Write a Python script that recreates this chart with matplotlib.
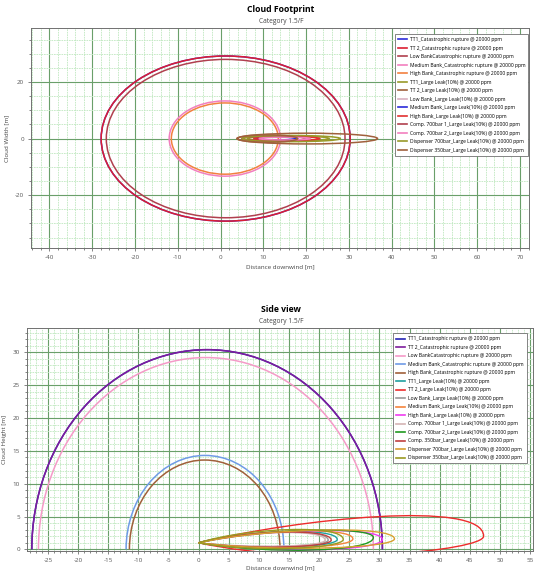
import matplotlib.pyplot as plt
from matplotlib.patches import Ellipse, Arc, PathPatch, Rectangle
from matplotlib.path import Path
from matplotlib.lines import Line2D
from matplotlib.ticker import MultipleLocator

plt.rcParams['font.family'] = ['Open Sans', 'DejaVu Sans']
plt.rcParams['axes.unicode_minus'] = False

# ---- Cloud footprint (top view) ----
top_labels = ['TT1_Catastrophic rupture @ 20000 ppm',
              'TT 2_Catastrophic rupture @ 20000 ppm',
              'Low BankCatastrophic rupture @ 20000 ppm',
              'Medium Bank_Catastrophic rupture @ 20000 ppm',
              'High Bank_Catastrophic rupture @ 20000 ppm',
              'TT1_Large Leak(10%) @ 20000 ppm',
              'TT 2_Large Leak(10%) @ 20000 ppm',
              'Low Bank_Large Leak(10%) @ 20000 ppm',
              'Medium Bank_Large Leak(10%) @ 20000 ppm',
              'High Bank_Large Leak(10%) @ 20000 ppm',
              'Comp. 700bar 1_Large Leak(10%) @ 20000 ppm',
              'Comp. 700bar 2_Large Leak(10%) @ 20000 ppm',
              'Dispenser 700bar_Large Leak(10%) @ 20000 ppm',
              'Dispenser 350bar_Large Leak(10%) @ 20000 ppm']
top_colors = ['#2b2bd9', '#dc1e32', '#b0404e', '#f27fbf', '#f28040',
              '#9a9a2a', '#a0603c', '#d9b0c0', '#2b2bd9', '#e23030',
              '#b0404e', '#f27fbf', '#9a9a2a', '#a0603c']

# catastrophic ruptures: centre x, radius along wind, radius across wind
top_cat_cx = [1.2, 1.2, 1.2, 1.0, 1.0]
top_cat_rx = [29.1, 29.1, 27.9, 13.0, 12.5]
top_cat_ry = [29.2, 29.2, 28.0, 13.3, 12.6]

# large leaks: start x, end x, half width
top_leak_x0 = [6.3, 3.8, 8.0, 8.0, 7.8, 5.0, 9.0, 5.0, 4.0]
top_leak_x1 = [25.4, 36.7, 21.0, 18.0, 23.2, 20.0, 21.0, 28.0, 18.0]
top_leak_hw = [0.9, 1.9, 0.6, 0.5, 0.7, 0.8, 0.5, 1.1, 1.3]

# ---- Side view ----
side_labels = ['TT1_Catastrophic rupture @ 20000 ppm',
               'TT 2_Catastrophic rupture @ 20000 ppm',
               'Low BankCatastrophic rupture @ 20000 ppm',
               'Medium Bank_Catastrophic rupture @ 20000 ppm',
               'High Bank_Catastrophic rupture @ 20000 ppm',
               'TT1_Large Leak(10%) @ 20000 ppm',
               'TT 2_Large Leak(10%) @ 20000 ppm',
               'Low Bank_Large Leak(10%) @ 20000 ppm',
               'Medium Bank_Large Leak(10%) @ 20000 ppm',
               'High Bank_Large Leak(10%) @ 20000 ppm',
               'Comp. 700bar 1_Large Leak(10%) @ 20000 ppm',
               'Comp. 700bar 2_Large Leak(10%) @ 20000 ppm',
               'Comp. 350bar_Large Leak(10%) @ 20000 ppm',
               'Dispenser 700bar_Large Leak(10%) @ 20000 ppm',
               'Dispenser 350bar_Large Leak(10%) @ 20000 ppm']
side_colors = ['#2424b4', '#7e1c9c', '#f59ac8', '#6f9be6', '#a0603a',
               '#1fa0a0', '#ee2c2c', '#9a9a9a', '#f5843c', '#f03cf0',
               '#d4b4b4', '#1f9a1f', '#c04040', '#d8a030', '#9a9a20']

side_cat_cx = [1.4, 1.4, 1.2, 1.05, 1.0]
side_cat_rx = [29.1, 29.1, 27.8, 13.1, 12.5]
side_cat_h = [30.4, 30.4, 29.2, 14.3, 13.6]

release_h = 1.0
# large leak plumes: tip distance, tip height, upper / lower control heights
plume_tip_x = [23.0, 47.3, 21.5, 25.6, 30.5, 21.0, 29.0, 22.0, 32.5, 24.0]
plume_tip_y = [1.5, 2.0, 1.4, 1.6, 1.5, 1.4, 1.8, 1.4, 1.6, 1.5]
plume_up1 = [3.0, 4.7, 2.9, 3.1, 3.2, 2.8, 3.2, 2.9, 3.3, 3.4]
plume_up2 = [3.4, 7.6, 3.3, 3.5, 3.6, 3.2, 3.6, 3.3, 3.7, 3.8]
plume_lo1 = [0.3, -0.2, 0.4, 0.2, -0.2, 0.4, -0.4, 0.3, 0.2, 0.2]
plume_lo2 = [-0.2, -2.8, 0.0, -0.3, -0.8, 0.1, -0.8, -0.1, -0.5, -0.6]

fig = plt.figure(figsize=(5.38, 5.74), dpi=100)
W, H = 538, 574
ax1 = fig.add_axes([31 / W, 1 - 248 / H, 498 / W, 220 / H])
ax2 = fig.add_axes([27 / W, 1 - 551 / H, 506 / W, 223 / H])


def style(ax, xmaj, xmin, ymaj, ymin):
    ax.xaxis.set_major_locator(MultipleLocator(xmaj))
    ax.xaxis.set_minor_locator(MultipleLocator(xmin))
    ax.yaxis.set_major_locator(MultipleLocator(ymaj))
    ax.yaxis.set_minor_locator(MultipleLocator(ymin))
    ax.grid(which='major', color='#6a9f6a', lw=0.8)
    ax.grid(which='minor', color='#c0e8c0', lw=0.6, ls=(0, (2, 1)))
    ax.set_axisbelow(True)
    ax.tick_params(which='both', labelsize=4.5, colors='#555555', width=0.5)
    ax.tick_params(which='major', length=2.5, pad=2.5)
    ax.tick_params(which='minor', length=1.5)
    for s in ax.spines.values():
        s.set_color('#707070')
        s.set_linewidth(0.7)


def add_legend(ax, colors, labels, anchor):
    handles = [Line2D([], [], color=c, lw=1.2) for c in colors]
    leg = ax.legend(handles, labels, loc='upper right', fontsize=3.6,
                    frameon=True, fancybox=False, framealpha=1,
                    edgecolor='#707070', handlelength=1.8, handletextpad=0.6,
                    labelspacing=0.7, borderpad=0.6, bbox_to_anchor=anchor)
    leg.get_frame().set_linewidth(0.6)


# top view
for i in range(5):
    ax1.add_patch(Ellipse((top_cat_cx[i], 0), 2 * top_cat_rx[i], 2 * top_cat_ry[i],
                          fill=False, ec=top_colors[i], lw=1.1))
for j in range(9):
    x0, x1 = top_leak_x0[j], top_leak_x1[j]
    ax1.add_patch(Ellipse(((x0 + x1) / 2, 0), x1 - x0, 2 * top_leak_hw[j],
                          fill=False, ec=top_colors[5 + j], lw=1.1))
ax1.set_xlim(-44.3, 72.1)
ax1.set_ylim(-38.7, 39.1)
style(ax1, 10, 2, 20, 5)
ax1.set_xlabel('Distance downwind [m]', fontsize=4.5, labelpad=3, color='#444444')
ax1.set_ylabel('Cloud Width [m]', fontsize=4.5, labelpad=4, color='#444444')
add_legend(ax1, top_colors, top_labels, (1.004, 0.984))

# side view
for i in range(5):
    ax2.add_patch(Arc((side_cat_cx[i], 0), 2 * side_cat_rx[i], 2 * side_cat_h[i],
                      theta1=0, theta2=180, ec=side_colors[i], lw=1.1))
ax2.set_xlim(-28.5, 55.5)
ax2.set_ylim(-0.25, 33.7)
ground = Rectangle((-28.5, 0), 84, 34, transform=ax2.transData)
for j in range(10):
    L = plume_tip_x[j]
    verts = [(0, release_h), (0.35 * L, plume_up1[j]), (L, plume_up2[j]),
             (L, plume_tip_y[j]), (L, plume_lo1[j]), (0.4 * L, plume_lo2[j]),
             (0, release_h)]
    codes = [Path.MOVETO] + [Path.CURVE4] * 6
    p = PathPatch(Path(verts, codes), fill=False, ec=side_colors[5 + j], lw=1.0)
    p.set_clip_path(ground)
    ax2.add_patch(p)
style(ax2, 5, 1, 5, 1)
ax2.set_xlabel('Distance downwind [m]', fontsize=4.5, labelpad=2, color='#444444')
ax2.set_ylabel('Cloud Height [m]', fontsize=4.5, labelpad=4, color='#444444')
add_legend(ax2, side_colors, side_labels, (0.993, 0.987))

fig.text(281 / W, 1 - 9.6 / H, 'Cloud Footprint', ha='center', va='center',
         fontsize=6.2, fontweight='bold')
fig.text(281 / W, 1 - 21.6 / H, 'Category 1.5/F', ha='center', va='center',
         fontsize=4.8, color='#444444')
fig.text(281 / W, 1 - 309.6 / H, 'Side view', ha='center', va='center',
         fontsize=6.2, fontweight='bold')
fig.text(281 / W, 1 - 321.6 / H, 'Category 1.5/F', ha='center', va='center',
         fontsize=4.8, color='#444444')

fig.savefig('out.png', dpi=100)
